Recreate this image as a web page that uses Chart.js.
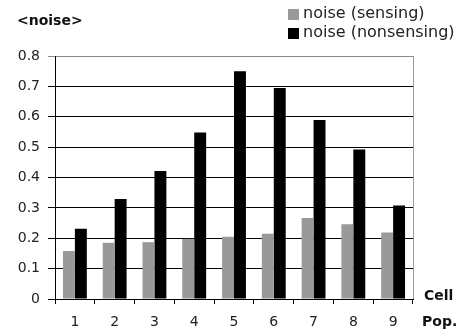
<!DOCTYPE html>
<html lang="en">
<head>
    <meta charset="UTF-8">
    <title>noise</title>
    <style>
        body { margin: 0; background: #fff; }
    </style>
</head>
<body>
    <canvas id="myChart" width="472" height="334"></canvas>

    <script src="https://cdn.jsdelivr.net/npm/chart.js"></script>
    <script>
        // datos
        const cellPop = ['1', '2', '3', '4', '5', '6', '7', '8', '9'];
        const noiseSensing = [0.158, 0.185, 0.187, 0.198, 0.205, 0.215, 0.267, 0.246, 0.219];
        const noiseNonsensing = [0.231, 0.329, 0.421, 0.548, 0.750, 0.695, 0.589, 0.492, 0.308];
        const yTicks = [0, 0.1, 0.2, 0.3, 0.4, 0.5, 0.6, 0.7, 0.8];

        // titulo, leyenda y borde derecho dibujados a mano
        const extras = {
            id: 'extras',
            afterDraw(chart) {
                const ctx = chart.ctx;
                const area = chart.chartArea;
                ctx.save();

                // borde derecho gris
                ctx.strokeStyle = '#999';
                ctx.lineWidth = 1;
                ctx.beginPath();
                ctx.moveTo(Math.round(area.right) + 0.5, area.top);
                ctx.lineTo(Math.round(area.right) + 0.5, area.bottom);
                ctx.stroke();

                ctx.fillStyle = '#111';
                ctx.font = 'bold 14px "DejaVu Sans"';
                ctx.textBaseline = 'middle';
                ctx.textAlign = 'left';
                ctx.fillText('<noise>', 17, 21);

                ctx.fillText('Cell', 424, 296);
                ctx.fillText('Pop.', 422, 322);

                // leyenda
                ctx.font = '16px "DejaVu Sans"';
                chart.data.datasets.forEach((ds, i) => {
                    const y = 14 + i * 19;
                    ctx.fillStyle = ds.backgroundColor;
                    ctx.fillRect(288, y - 5, 11, 11);
                    ctx.fillStyle = '#222';
                    ctx.fillText(ds.label, 303, y);
                });
                ctx.restore();
            }
        };

        const ctx = document.getElementById('myChart').getContext('2d');
        const myChart = new Chart(ctx, {
            type: 'bar',
            data: {
                labels: cellPop,
                datasets: [{
                    label: 'noise (sensing)',
                    data: noiseSensing,
                    backgroundColor: '#999999',
                    borderWidth: 0,
                    barPercentage: 1,
                    categoryPercentage: 0.6
                }, {
                    label: 'noise (nonsensing)',
                    data: noiseNonsensing,
                    backgroundColor: '#000000',
                    borderWidth: 0,
                    barPercentage: 1,
                    categoryPercentage: 0.6
                }]
            },
            options: {
                responsive: false,
                animation: false,
                devicePixelRatio: 1,
                layout: { padding: { left: 0, top: 56, right: 59, bottom: 0 } },
                plugins: {
                    legend: { display: false },
                    tooltip: { enabled: false }
                },
                scales: {
                    x: {
                        offset: true,
                        afterFit: (scale) => { scale.height = 35; },
                        grid: {
                            offset: true,
                            drawOnChartArea: false,
                            drawTicks: true,
                            tickLength: 5,
                            color: '#000'
                        },
                        border: { color: '#000', width: 1 },
                        ticks: {
                            color: '#222',
                            padding: 10,
                            font: { family: 'DejaVu Sans', size: 14 }
                        }
                    },
                    y: {
                        min: 0,
                        max: 0.8,
                        afterFit: (scale) => { scale.width = 55; },
                        afterBuildTicks: (scale) => {
                            scale.ticks = yTicks.map(v => ({ value: v }));
                        },
                        grid: {
                            color: (c) => c.tick && c.tick.value === 0.8 ? '#888' : '#000',
                            tickLength: 7,
                            lineWidth: 1
                        },
                        border: { color: '#000', width: 1 },
                        ticks: {
                            color: '#222',
                            padding: 8,
                            font: { family: 'DejaVu Sans', size: 14 },
                            callback: (v) => String(Math.round(v * 10) / 10)
                        }
                    }
                }
            },
            plugins: [extras]
        });
    </script>
</body>
</html>
